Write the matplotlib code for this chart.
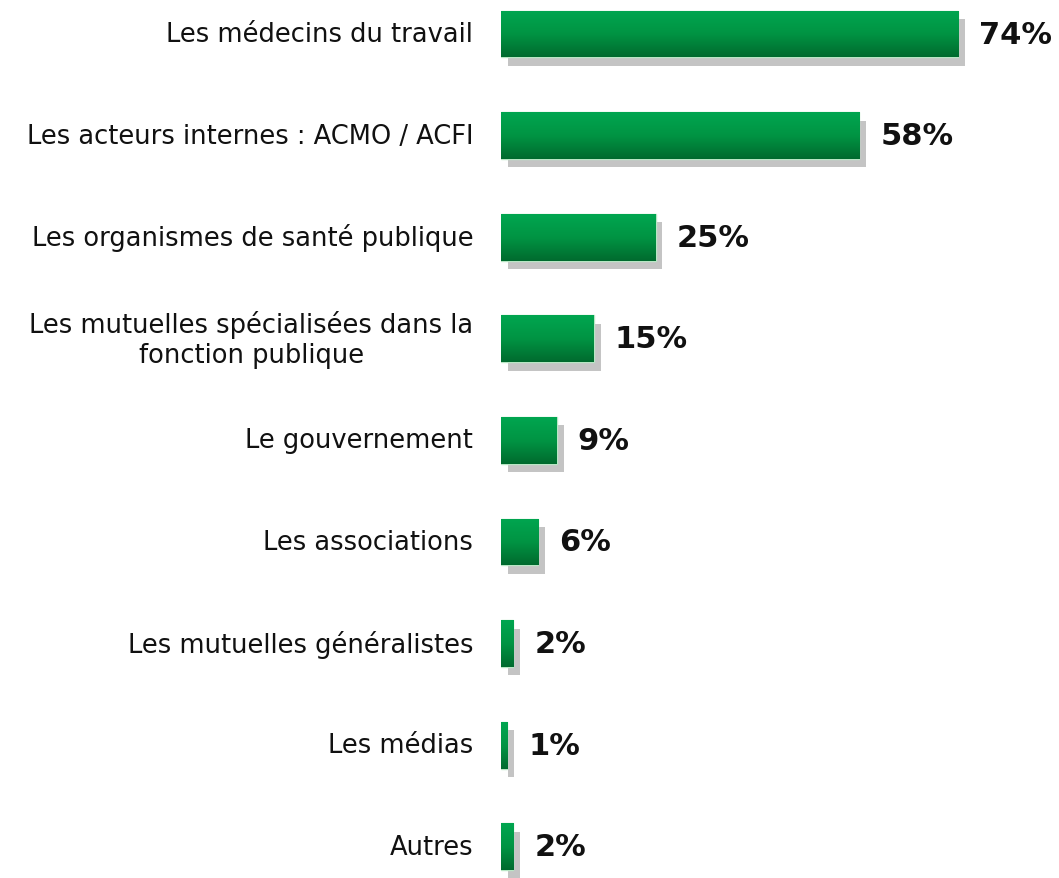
import numpy as np
import matplotlib
matplotlib.use("Agg")
import matplotlib.pyplot as plt
import matplotlib.patheffects as pe
from matplotlib.colors import LinearSegmentedColormap

categories = [
    "Les médecins du travail",
    "Les acteurs internes : ACMO / ACFI",
    "Les organismes de santé publique",
    "Les mutuelles spécialisées dans la\nfonction publique",
    "Le gouvernement",
    "Les associations",
    "Les mutuelles généralistes",
    "Les médias",
    "Autres",
]
values = [74, 58, 25, 15, 9, 6, 2, 1, 2]
value_labels = ["74%", "58%", "25%", "15%", "9%", "6%", "2%", "1%", "2%"]

W, H, DPI = 1059, 879, 100
fig = plt.figure(figsize=(W / DPI, H / DPI), dpi=DPI)
fig.patch.set_facecolor("white")

x0_px, px_per_unit = 501, 6.18
row0_px, row_step = 35, 101.6
ax = fig.add_axes([x0_px / W, 0, 1 - x0_px / W, 1])
ax.set_xlim(0, (W - x0_px) / px_per_unit)
ax.set_ylim(8 + (H - row0_px - 8 * row_step) / row_step, -row0_px / row_step)
ax.axis("off")

ypos = np.arange(len(values))
bar_h = 0.46
cmap = LinearSegmentedColormap.from_list("g", ["#00a650", "#009443", "#006a2e"])
grad = np.linspace(0, 1, 256).reshape(-1, 1)

bars = ax.barh(ypos, values, height=bar_h, color="#00a04a",
               edgecolor="#b8e6c4", linewidth=1.0, zorder=2)
for b in bars:
    b.set_path_effects([pe.SimplePatchShadow(offset=(5, -6), shadow_rgbFace="#c4c4c4", alpha=1.0),
                        pe.Normal()])
    x, y = b.get_x(), b.get_y()
    w, h = b.get_width(), b.get_height()
    im = ax.imshow(grad, cmap=cmap, aspect="auto", extent=(x, x + w, y + h, y),
                   zorder=3, interpolation="bilinear")
    im.set_clip_path(b)

for yi, cat, v, lab in zip(ypos, categories, values, value_labels):
    ax.annotate(cat, xy=(0, yi), xytext=(-20, 0), textcoords="offset points",
                ha="right", va="center", multialignment="center",
                fontsize=18.5, color="#111111", family="DejaVu Sans",
                annotation_clip=False)
    ax.annotate(lab, xy=(v, yi), xytext=(15, 0), textcoords="offset points",
                ha="left", va="center", fontsize=22, fontweight="bold",
                color="#111111", family="DejaVu Sans", annotation_clip=False)

fig.savefig("out.png", dpi=DPI)
